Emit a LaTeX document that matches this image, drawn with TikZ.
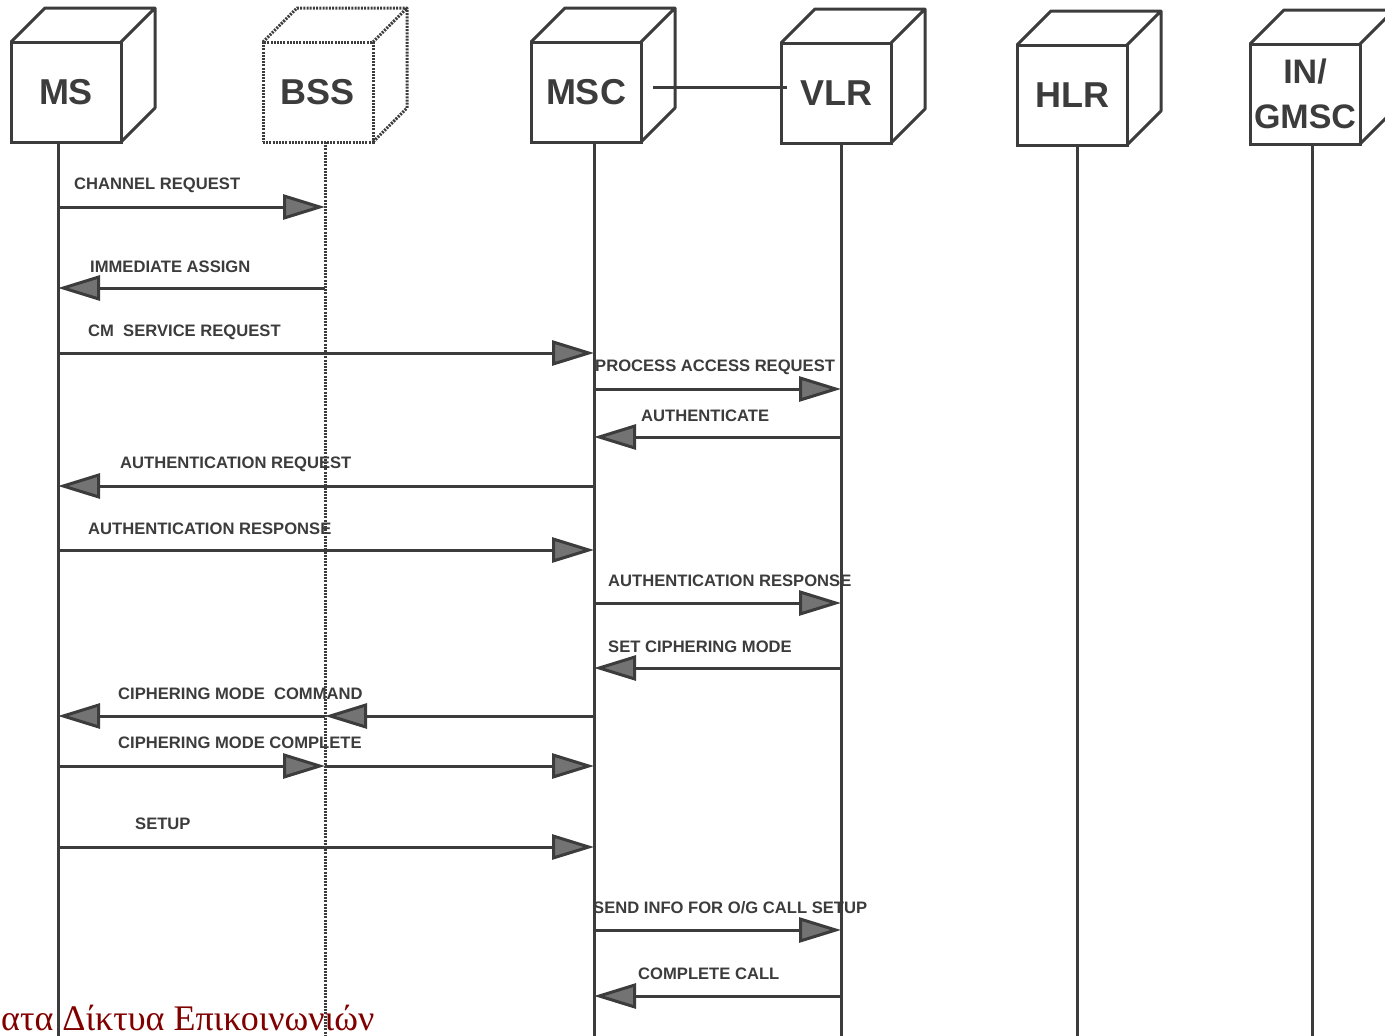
\documentclass[tikz,border=0pt]{standalone}
\usepackage{fontspec}
\setsansfont{Liberation Sans}
\newfontfamily\greekfont{Liberation Serif}
\usepackage{tikz}
\usetikzlibrary{arrows.meta,calc}
\definecolor{inkGray}{RGB}{60,60,60}
\definecolor{tipGray}{RGB}{115,115,115}
\definecolor{footRed}{RGB}{128,0,0}

\begin{document}
\begin{tikzpicture}[x=1pt,y=-1pt]
		\useasboundingbox (0,0) rectangle (1385,1036);
		\clip (0,0) rectangle (1385,1036);
		\begin{scope}
			[
				styleBox/.style={
					minimum width = 110pt, minimum height = 100pt,
					draw=inkGray, line width=3pt, outer sep=0pt, inner sep=0pt,
					text=inkGray, font=\sffamily\bfseries\fontsize{36}{40}\selectfont
					},
				styleDots/.style={dash pattern=on 2pt off 1.2pt},
				styleSide/.style={draw=inkGray, line width=3pt, line join=round},
				styleLife/.style={draw=inkGray, line width=3pt},
				styleMsg/.style={anchor=west, inner sep=0pt, text=inkGray,
					font=\sffamily\bfseries\fontsize{16.6}{19}\selectfont},
			]
			\node(ms)[styleBox] at (66,92) {MS};
			\node(bss)[styleBox, styleDots] at (318,92) {BSS};
			\node(msc)[styleBox] at (586,92) {MSC};
			\node(vlr)[styleBox] at (836,93) {VLR};
			\node(hlr)[styleBox] at (1072,95) {HLR};
			\node(in)[styleBox, align=center, font=\sffamily\bfseries\fontsize{34}{45}\selectfont] at (1305,94) {IN/\\GMSC};

			% depth of the boxes
			\draw[styleSide] (ms.north west) -- ++(34,-34) -- ($(ms.north east)+(34,-34)$) -- ($(ms.south east)+(34,-34)$) -- (ms.south east) (ms.north east) -- ++(34,-34);
			\draw[styleSide, styleDots] (bss.north west) -- ++(34,-34) -- ($(bss.north east)+(34,-34)$) -- ($(bss.south east)+(34,-34)$) -- (bss.south east) (bss.north east) -- ++(34,-34);
			\draw[styleSide] (msc.north west) -- ++(34,-34) -- ($(msc.north east)+(34,-34)$) -- ($(msc.south east)+(34,-34)$) -- (msc.south east) (msc.north east) -- ++(34,-34);
			\draw[styleSide] (vlr.north west) -- ++(34,-34) -- ($(vlr.north east)+(34,-34)$) -- ($(vlr.south east)+(34,-34)$) -- (vlr.south east) (vlr.north east) -- ++(34,-34);
			\draw[styleSide] (hlr.north west) -- ++(34,-34) -- ($(hlr.north east)+(34,-34)$) -- ($(hlr.south east)+(34,-34)$) -- (hlr.south east) (hlr.north east) -- ++(34,-34);
			\draw[styleSide] (in.north west) -- ++(34,-34) -- ($(in.north east)+(34,-34)$) -- ($(in.south east)+(34,-34)$) -- (in.south east) (in.north east) -- ++(34,-34);

			\draw[styleSide] ($(msc.east)+(12,-5)$) -- ($(vlr.west)+(6,-6)$);

			% life lines
			\coordinate(msL) at (58,142);
			\coordinate(bssL) at (325,142);
			\coordinate(mscL) at (594,142);
			\coordinate(vlrL) at (841,143);
			\coordinate(hlrL) at (1077,145);
			\coordinate(inL) at (1312,144);
			\draw[styleLife] (msL) -- (msL |- 0,1040);
			\draw[styleLife, styleDots] (bssL) -- (bssL |- 0,1040);
			\draw[styleLife] (mscL) -- (mscL |- 0,1040);
			\draw[styleLife] (vlrL) -- (vlrL |- 0,1040);
			\draw[styleLife] (hlrL) -- (hlrL |- 0,1040);
			\draw[styleLife] (inL) -- (inL |- 0,1040);

			\node(tChannel)[styleMsg] at (74,185) {CHANNEL REQUEST};
			\node(tAssign)[styleMsg] at (90,267) {IMMEDIATE ASSIGN};
			\node(tService)[styleMsg] at (88,332) {CM\ \ SERVICE REQUEST};
			\node(tAccess)[styleMsg] at (595,367) {PROCESS ACCESS REQUEST};
			\node(tAuth)[styleMsg] at (641,416) {AUTHENTICATE};
			\node(tAuthReq)[styleMsg] at (120,464) {AUTHENTICATION REQUEST};
			\node(tAuthResp)[styleMsg] at (88,529) {AUTHENTICATION RESPONSE};
			\node(tAuthResp2)[styleMsg] at (608,581) {AUTHENTICATION RESPONSE};
			\node(tSetCiph)[styleMsg] at (608,647) {SET CIPHERING MODE};
			\node(tCiphCmd)[styleMsg] at (118,694) {CIPHERING MODE\ \ COMMAND};
			\node(tCiphCpl)[styleMsg] at (118,743) {CIPHERING MODE COMPLETE};
			\node(tSetup)[styleMsg] at (135,824) {SETUP};
			\node(tSendInfo)[styleMsg] at (593,908) {SEND INFO FOR O/G CALL SETUP};
			\node(tCompl)[styleMsg] at (638,974) {COMPLETE CALL};
		\end{scope}

		\begin{scope}
			[ styleArrow/.style = {draw=inkGray, line width=3pt,
				-{Triangle[length=42pt,width=25pt,fill=tipGray]}}]
			\path
			(msL |- 0,207) edge[styleArrow]		(bssL |- 0,207)
			(bssL |- 0,288) edge[styleArrow]	(msL |- 0,288)
			(msL |- 0,353) edge[styleArrow]		(mscL |- 0,353)
			(mscL |- 0,389) edge[styleArrow]	(vlrL |- 0,389)
			(vlrL |- 0,437) edge[styleArrow]	(mscL |- 0,437)
			(mscL |- 0,486) edge[styleArrow]	(msL |- 0,486)
			(msL |- 0,550) edge[styleArrow]		(mscL |- 0,550)
			(mscL |- 0,603) edge[styleArrow]	(vlrL |- 0,603)
			(vlrL |- 0,668) edge[styleArrow]	(mscL |- 0,668)
			(mscL |- 0,716) edge[styleArrow]	(bssL |- 0,716)
			(bssL |- 0,716) edge[styleArrow]	(msL |- 0,716)
			(msL |- 0,766) edge[styleArrow]		(bssL |- 0,766)
			(bssL |- 0,766) edge[styleArrow]	(mscL |- 0,766)
			(msL |- 0,847) edge[styleArrow]		(mscL |- 0,847)
			(mscL |- 0,930) edge[styleArrow]	(vlrL |- 0,930)
			(vlrL |- 0,996) edge[styleArrow]	(mscL |- 0,996);
		\end{scope}

		\node(footer)[anchor=base west, inner sep=0pt, text=footRed,
			font=\greekfont\fontsize{36}{40}\selectfont] at (1,1030) {ατα Δίκτυα Επικοινωνιών};
	\end{tikzpicture}
\end{document}
